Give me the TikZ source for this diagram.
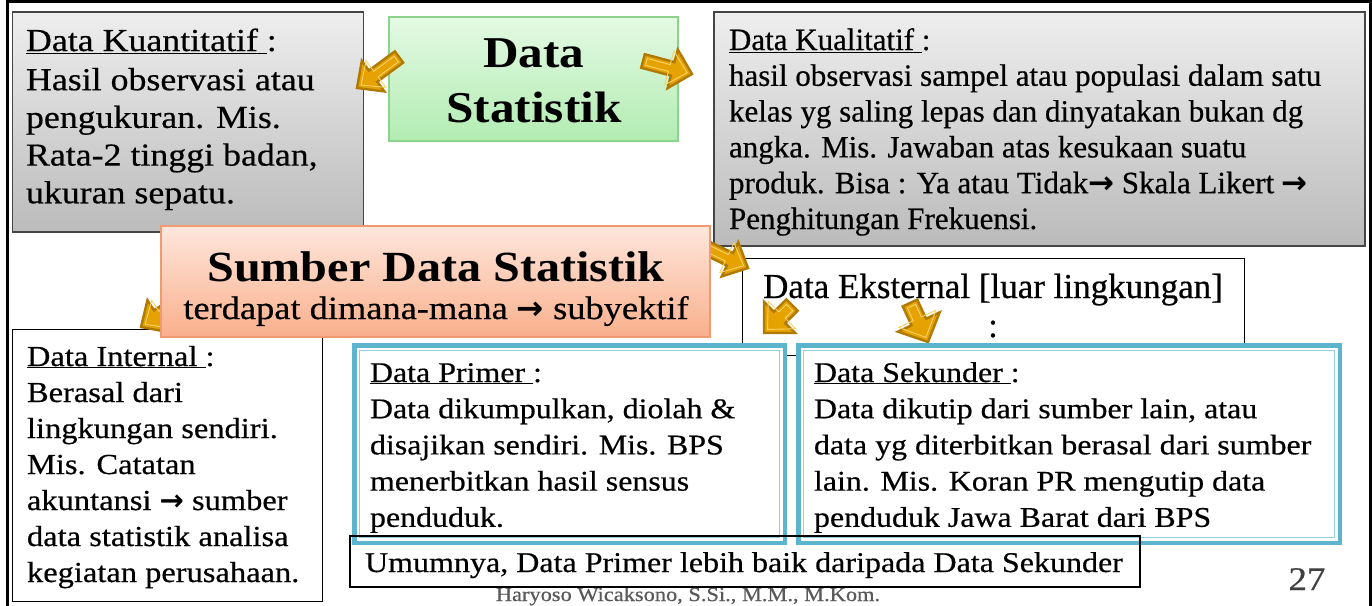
\documentclass[tikz,border=0pt]{standalone}
\usepackage{fontspec}
\setmainfont{Liberation Serif}[FakeStretch=1.12, UprightFeatures={FakeBold=0.5}]
\newfontfamily\narrowfont{Liberation Serif}[UprightFeatures={FakeBold=0.5}]
\newfontfamily\arrowfont{DejaVu Sans}[Scale=1.0]
\usetikzlibrary{calc}

\definecolor{grayT}{HTML}{EEEEEE}
\definecolor{grayB}{HTML}{BBBBBB}
\definecolor{boxedge}{HTML}{454545}
\definecolor{greenT}{HTML}{E4FAE4}
\definecolor{greenB}{HTML}{B2ECB2}
\definecolor{greenedge}{HTML}{8CD38C}
\definecolor{salmonT}{HTML}{FEE6DC}
\definecolor{salmonB}{HTML}{F9B08C}
\definecolor{salmonedge}{HTML}{F09A72}
\definecolor{frameblue}{HTML}{5CB5CD}
\definecolor{frameblueL}{HTML}{93CFDF}
\definecolor{goldfill}{HTML}{E6A200}
\definecolor{goldedge}{HTML}{B07A00}
\definecolor{goldline}{HTML}{F8D26A}
\definecolor{footgray}{HTML}{595959}
\definecolor{numgray}{HTML}{404040}

% bold arrow used inside running text
\newcommand\rarr{{\arrowfont\bfseries →}}

% block arrow: #1 tail, #2 tip, #3 shaft half-width, #4 head half-width, #5 head length (pt)
\newcommand\goldarrow[5]{%
  \pgfmathsetmacro\gaWi{#3-3.5}%
  \pgfmathsetmacro\gaHi{#4-2.5}%
  \coordinate (ga-b) at ($(#2)!#5pt!(#1)$);
  \coordinate (ga-bi) at ($(ga-b)!3.5pt!(#1)$);
  \coordinate (ga-ti) at ($(#1)!3.5pt!(#2)$);
  \coordinate (ga-hi) at ($(#2)!5pt!(#1)$);
  \filldraw[goldarrow] ($(#1)!#3pt!90:(#2)$) -- ($(ga-b)!#3pt!90:(#2)$) -- ($(ga-b)!#4pt!90:(#2)$) -- (#2)
     -- ($(ga-b)!#4pt!-90:(#2)$) -- ($(ga-b)!#3pt!-90:(#2)$) -- ($(#1)!#3pt!-90:(#2)$) -- cycle;
  \draw[goldinner] ($(ga-ti)!\gaWi pt!90:(#2)$) -- ($(ga-bi)!\gaWi pt!90:(#2)$) -- ($(ga-bi)!\gaHi pt!90:(#2)$) -- (ga-hi)
     -- ($(ga-bi)!\gaHi pt!-90:(#2)$) -- ($(ga-bi)!\gaWi pt!-90:(#2)$) -- ($(ga-ti)!\gaWi pt!-90:(#2)$) -- cycle;
}

\begin{document}
\begin{tikzpicture}[x=1pt,y=-1pt,
  box/.style={anchor=north west, inner sep=0pt, outer sep=0pt},
  graybox/.style={box, draw=boxedge, line width=1.5pt, top color=grayT, bottom color=grayB},
  greenbox/.style={box, draw=greenedge, line width=1.5pt, top color=greenT, bottom color=greenB},
  salmonbox/.style={box, draw=salmonedge, line width=1.5pt, top color=salmonT, bottom color=salmonB},
  plainbox/.style={box, draw=black, line width=1pt, fill=white},
  bluebox/.style={box, draw=frameblue, line width=4.5pt, fill=white},
  blueinner/.style={draw=frameblueL, line width=1pt},
  txt/.style={anchor=base west, inner sep=0pt, outer sep=0pt},
  ctxt/.style={anchor=base, inner sep=0pt, outer sep=0pt},
  goldarrow/.style={fill=goldfill, draw=goldedge, line width=2.4pt, line join=miter},
  goldinner/.style={draw=goldline, line width=0.9pt, line join=miter}]
\useasboundingbox (0,0) rectangle (1372,605);
\fill[white] (0,0) rectangle (1372,605);

% slide frame
\draw[line width=3pt] (7.5,615) -- (7.5,1.5) -- (1370,1.5) -- (1370,615);

% footer and page number
\node[ctxt] (footer) at (688,601) {\color{footgray}\fontsize{20}{24}\selectfont Haryoso Wicaksono, S.Si., M.M., M.Kom.};
\node[ctxt] (pagenum) at (1307,590) {\color{numgray}\fontsize{33}{40}\selectfont 27};

% quantitative data
\node[graybox, minimum width=351pt, minimum height=220pt] (kuan) at (12.5,12) {};
\node[txt] (kuan-t) at (26,51) {\parbox[t]{340pt}{\fontsize{32}{37.7}\selectfont
  \underline{Data Kuantitatif\ }:\\[1.5pt]
  Hasil observasi atau\\ pengukuran. Mis.\\ Rata-2 tinggi badan,\\ ukuran sepatu.}};

% qualitative data
\node[graybox, minimum width=651pt, minimum height=234pt] (kual) at (714,12) {};
\node[txt] (kual-t) at (729,50) {\parbox[t]{640pt}{\narrowfont\fontsize{31}{35.8}\selectfont
  \underline{Data Kualitatif\ }:\\
  hasil observasi sampel atau populasi dalam satu\\
  kelas yg saling lepas dan dinyatakan bukan dg\\
  angka. Mis. Jawaban atas kesukaan suatu\\
  produk. Bisa : Ya atau Tidak\rarr{} Skala Likert \rarr\\
  Penghitungan Frekuensi.}};

% title box
\node[greenbox, minimum width=289pt, minimum height=124pt] (stat) at (389,17) {};
\node[ctxt] (stat-t) at (534,67) {\parbox[t]{280pt}{\centering\bfseries\fontsize{44}{55}\selectfont Data\\ Statistik}};

\coordinate (a1t) at (399,57);  \coordinate (a1h) at (357,88);
\coordinate (a2t) at (643,61);  \coordinate (a2h) at (692,74);
\goldarrow{a1t}{a1h}{7}{19}{20}
\goldarrow{a2t}{a2h}{7}{20}{20}

% external data
\node[plainbox, minimum width=502pt, minimum height=97pt] (eks) at (742,258) {};
\node[ctxt] (eks-t) at (993,298) {\parbox[t]{500pt}{\centering\narrowfont\fontsize{35}{39}\selectfont Data Eksternal [luar lingkungan]\\ :}};

% internal data
\node[plainbox, minimum width=310pt, minimum height=272pt] (int) at (12.5,329) {};
\node[txt] (int-t) at (27,366) {\parbox[t]{300pt}{\fontsize{29}{36}\selectfont
  \underline{Data Internal\ }:\\
  Berasal dari\\ lingkungan sendiri.\\ Mis. Catatan\\ akuntansi \rarr{} sumber\\
  data statistik analisa\\ kegiatan perusahaan.}};

\coordinate (a3t) at (690,240); \coordinate (a3h) at (748,268);
\coordinate (a4t) at (195,292); \coordinate (a4h) at (141,327);
\goldarrow{a3t}{a3h}{7}{19}{20}
\goldarrow{a4t}{a4h}{7}{19}{20}

% sources box
\node[salmonbox, minimum width=549pt, minimum height=111pt] (sumber) at (161,226) {};
\node[ctxt] (sumber-t) at (436,281) {\bfseries\fontsize{43}{50}\selectfont Sumber Data Statistik};
\node[ctxt] (sumber-s) at (436,319) {\fontsize{32.5}{36}\selectfont terdapat dimana-mana \rarr{} subyektif};

\coordinate (a5t) at (792,305); \coordinate (a5h) at (764,333);
\coordinate (a6t) at (910,303); \coordinate (a6h) at (928,342);
\goldarrow{a5t}{a5h}{8}{22}{22}
\goldarrow{a6t}{a6h}{8}{23}{22}

% primary data
\node[bluebox, minimum width=430.5pt, minimum height=197.5pt] (primer) at (354.25,345.25) {};
\draw[blueinner] ($(primer.north west)+(5,5)$) rectangle ($(primer.south east)+(-5,-5)$);
\node[txt] (primer-t) at (370,382) {\parbox[t]{420pt}{\fontsize{28.5}{36.2}\selectfont
  \underline{Data Primer\ }:\\
  Data dikumpulkan, diolah \&\\ disajikan sendiri. Mis. BPS\\ menerbitkan hasil sensus\\ penduduk.}};

% secondary data
\node[bluebox, minimum width=541.5pt, minimum height=197.5pt] (sekunder) at (798.25,345.25) {};
\draw[blueinner] ($(sekunder.north west)+(5,5)$) rectangle ($(sekunder.south east)+(-5,-5)$);
\node[txt] (sekunder-t) at (814,382) {\parbox[t]{520pt}{\fontsize{28.5}{36.2}\selectfont
  \underline{Data Sekunder\ }:\\
  Data dikutip dari sumber lain, atau\\ data yg diterbitkan berasal dari sumber\\
  lain. Mis. Koran PR mengutip data\\ penduduk Jawa Barat dari BPS}};

% conclusion
\node[box, draw=black, line width=1.5pt, minimum width=790pt, minimum height=51pt] (umum) at (350,536) {};
\node[txt] (umum-t) at (365,572) {\fontsize{28.6}{34}\selectfont Umumnya, Data Primer lebih baik daripada Data Sekunder};
\end{tikzpicture}
\end{document}
